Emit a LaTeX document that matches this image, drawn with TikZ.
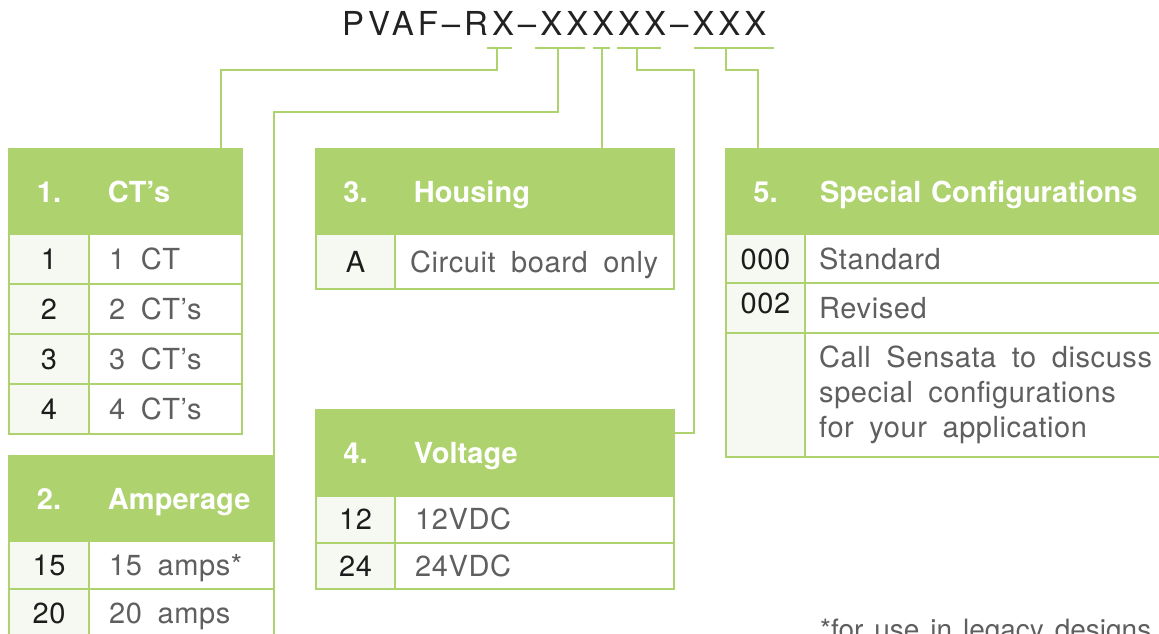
\documentclass[tikz,border=0pt]{standalone}
\usepackage{fontspec}
\setmainfont{TeX Gyre Heros}
\newfontfamily\codefont[LetterSpace=12]{TeX Gyre Heros}
\newfontfamily\cellfont[LetterSpace=2,WordSpace=1.8]{TeX Gyre Heros}
\newfontfamily\footfont[WordSpace=1.4]{TeX Gyre Heros}
\usetikzlibrary{positioning}

\definecolor{leafgreen}{RGB}{174,211,110}
\definecolor{keytint}{RGB}{246,249,241}
\definecolor{descgray}{RGB}{95,95,95}
\definecolor{keyblack}{RGB}{28,28,28}
\definecolor{codeblack}{RGB}{34,34,34}

% number column of a header, then the gap before the title
\newcommand{\hnum}[3][19]{\makebox[#2pt]{#3}\hspace{#1pt}}

\begin{document}
\begin{tikzpicture}[x=1pt,y=-1pt,
    link/.style={draw=leafgreen, line width=2pt},
    cell/.style={draw=leafgreen, line width=2pt, anchor=north west, inner sep=0pt,
        text height=21pt, text depth=0pt},
    head/.style={cell, fill=leafgreen, text=white, font=\bfseries\fontsize{29}{35}\selectfont,
        text width=#1, align=left, minimum height=85pt},
    key/.style 2 args={cell, fill=keytint, text=keyblack, font=\cellfont\fontsize{29}{35}\selectfont,
        minimum width=#1, minimum height=#2},
    desc/.style 2 args={cell, fill=white, minimum width=#1, minimum height=#2},
    note/.style={inner sep=0pt, text=descgray, font=\cellfont\fontsize{29}{35}\selectfont,
        text height=21pt, text depth=0pt},
    noteblock/.style={inner sep=0pt, text=descgray, font=\cellfont\fontsize{29}{35}\selectfont, align=left}]

    \path[use as bounding box] (0,0) rectangle (1159,634);
    \clip (0,0) rectangle (1159,634);

    % part number
    \node[font=\codefont\fontsize{33}{40}\selectfont, text=codeblack, anchor=base west, inner sep=0pt]
        (code) at (342,36) {PVAF–RX–XXXXX–XXX};

    % bars under the option letters
    \foreach \a/\b in {487/512, 535/585, 593/610, 617/661, 694/774}
        \draw[link] (\a,48) -- (\b,48);

    % 1. CT's
    \node[head=233pt] (ct) at (8,148) {\hnum{80}{1.}CT’s};
    \foreach \opt/\txt [count=\i from 0] in {1/1 CT, 2/2 CT’s, 3/3 CT’s, 4/4 CT’s} {
        \node[key={80pt}{50pt}] (ct-k\opt) at (8,233+50*\i) {\opt};
        \node[desc={153pt}{50pt}] (ct-d\opt) at (88,233+50*\i) {};
        \node[note, right=21pt of ct-d\opt.west] {\txt};
    }

    % 2. Amperage
    \node[head=265pt] (amp) at (8,455) {\hnum{80}{2.}Amperage};
    \foreach \opt/\txt [count=\i from 0] in {15/15 amps*, 20/20 amps} {
        \node[key={80pt}{48pt}] (amp-k\opt) at (8,540+48*\i) {\opt};
        \node[desc={185pt}{48pt}] (amp-d\opt) at (88,540+48*\i) {};
        \node[note, right=21pt of amp-d\opt.west] {\txt};
    }

    % 3. Housing
    \node[head=358pt] (hous) at (315,148) {\hnum{79}{3.}Housing};
    \node[key={79pt}{55pt}] (hous-k) at (315,233) {A};
    \node[desc={279pt}{55pt}] (hous-d) at (394,233) {};
    \node[note, right=16pt of hous-d.west] {Circuit board only};

    % 4. Voltage
    \node[head=358pt] (volt) at (315,409) {\hnum{79}{4.}Voltage};
    \foreach \opt/\txt [count=\i from 0] in {12/12VDC, 24/24VDC} {
        \node[key={79pt}{46.5pt}] (volt-k\opt) at (315,495+46.5*\i) {\opt};
        \node[desc={279pt}{46.5pt}] (volt-d\opt) at (394,495+46.5*\i) {};
        \node[note, right=21pt of volt-d\opt.west] {\txt};
    }

    % 5. Special Configurations
    \node[head=460pt] (spec) at (725,148) {\hnum[15]{79}{5.}Special Configurations};
    \node[key={79pt}{49pt}] (spec-k1) at (725,233) {000};
    \node[desc={420pt}{49pt}] (spec-d1) at (804,233) {};
    \node[note, right=15pt of spec-d1.west] {Standard};
    \node[key={79pt}{50pt}] (spec-k2) at (725,282) {\raisebox{5pt}{002}};
    \node[desc={420pt}{50pt}] (spec-d2) at (804,282) {};
    \node[note, right=15pt of spec-d2.west] {Revised};
    \node[key={79pt}{124pt}] (spec-k3) at (725,332) {};
    \node[desc={420pt}{124pt}] (spec-d3) at (804,332) {};
    \node[noteblock, right=15pt of spec-d3.west]
        {Call Sensata to discuss\\special configurations\\for your application};

    % footnote
    \node[note, font=\footfont\fontsize{28}{34}\selectfont, anchor=base west] (legacy)
        at (820,639) {*for use in legacy designs};

    % connectors
    \coordinate (t1) at (497,48);  \coordinate (j1) at (221,70);
    \coordinate (t2) at (558,48);  \coordinate (j2) at (274,112);
    \coordinate (t3) at (602,48);
    \coordinate (t4) at (637,48);  \coordinate (j4) at (694,70);  \coordinate (j4b) at (694,433);
    \coordinate (t5) at (726,48);  \coordinate (j5) at (758,70);
    \draw[link] (t1) |- (j1) -- (j1 |- ct.north);
    \draw[link] (t2) |- (j2) -- (j2 |- amp.north);
    \draw[link] (t3) -- (t3 |- hous.north);
    \draw[link] (t4) |- (j4) -- (j4b) -- (j4b -| volt.east);
    \draw[link] (t5) |- (j5) -- (j5 |- spec.north);
\end{tikzpicture}
\end{document}
